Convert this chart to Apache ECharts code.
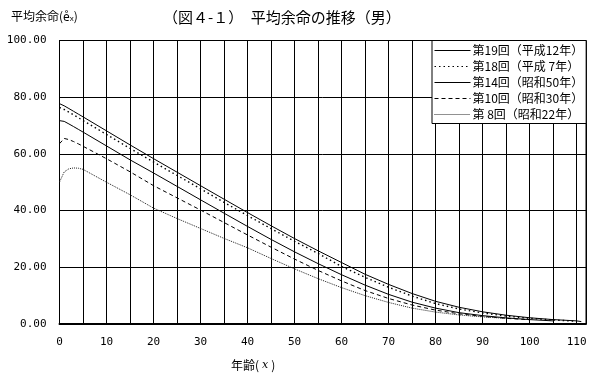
<!DOCTYPE html>
<html><head><meta charset="utf-8">
<script src="https://cdn.jsdelivr.net/npm/echarts@6/dist/echarts.min.js"></script>
<style>html,body{margin:0;padding:0;background:#fff}#c{width:600px;height:380px}</style>
</head><body><div id="c"></div>
<script>
// ages (x)
const ages = [0,1,2,3,4,5,10,15,20,25,30,35,40,45,50,55,60,65,70,75,80,85,90,95,100,105,110,111];
// series names (legend)
const seriesNames = ['第19回（平成12年）','第18回（平成 7年）','第14回（昭和50年）','第10回（昭和30年）','第 8回（昭和22年）'];
// life expectancy values per age
const e19 = [77.72,76.96,76.00,75.02,74.04,73.07,68.13,63.18,58.33,53.56,48.79,44.03,39.30,34.66,30.14,25.83,21.68,17.54,13.97,10.75,8.00,5.90,4.30,3.10,2.20,1.55,1.10,0.85];
const e18 = [76.38,75.66,74.71,73.74,72.77,71.79,66.87,61.93,57.16,52.42,47.66,42.92,38.24,33.65,29.17,24.92,20.28,16.48,12.96,9.86,7.20,5.30,3.90,2.80,2.00,1.40,1.00,null];
const e14 = [71.73,71.47,70.57,69.63,68.67,67.70,62.81,57.91,53.27,48.55,43.81,39.09,34.41,29.84,25.45,21.30,17.38,13.72,10.45,7.70,5.60,4.00,2.95,2.15,1.55,1.10,null,null];
const e10 = [63.60,65.45,65.05,64.35,63.55,62.70,58.30,53.70,48.80,44.50,40.20,35.80,31.40,27.10,22.90,18.90,15.20,11.80,9.00,6.70,4.90,3.60,2.70,2.00,1.50,null,null,null];
const e8  = [50.06,53.65,54.75,55.05,54.95,54.55,50.00,45.60,40.89,37.20,33.70,30.20,26.88,23.10,19.44,16.00,12.83,10.00,7.60,5.60,4.20,3.20,2.50,2.00,null,null,null,null];
// tick labels
const yTicks = [0,20,40,60,80,100];
const xTickLabels = [0,10,20,30,40,50,60,70,80,90,100,110];

const valueSets = [e19,e18,e14,e10,e8];
const lineTypes = ['solid',[1.5,3],'solid',[4,3],[1,1]];
const lineWidths = [1,1.4,1,1,1];
const lineColors = ['#000','#000','#000','#000','#222'];

const chart = echarts.init(document.getElementById('c'), null, {renderer:'canvas'});
const fontJP = '"Noto Sans CJK JP", "Noto Sans", sans-serif';
const fontNum = '"DejaVu Sans Mono", "Liberation Mono", monospace';

chart.setOption({
  animation: false,
  backgroundColor: '#fff',
  title: {
    text: '（図４-１）　平均余命の推移（男）',
    left: 158, top: 5,
    textStyle: {fontSize: 15, fontWeight: 'normal', color: '#000', fontFamily: fontJP}
  },
  grid: {left: 59.5, right: 14, top: 40.5, bottom: 56, show: true, borderColor: '#000', borderWidth: 1, containLabel: false},
  legend: {
    orient: 'vertical', left: 432, top: 40.5,
    backgroundColor: '#fff', borderColor: '#000', borderWidth: 1,
    padding: [4, 3, 3, 2], itemWidth: 36, itemHeight: 12, itemGap: 4,
    itemStyle: {color: 'rgba(0,0,0,0)', borderColor: 'rgba(0,0,0,0)', borderWidth: 0},
    lineStyle: {width: 1},
    textStyle: {fontSize: 12, color: '#000', fontFamily: fontJP, padding: [0,0,0,-3]},
    data: seriesNames
  },
  xAxis: {
    type: 'value', min: 0, max: 112, interval: 5,
    axisLine: {show: true, onZero: false, lineStyle: {color: '#000', width: 2}},
    axisTick: {show: false},
    axisLabel: {
      show: true, margin: 13, color: '#000', fontSize: 11, fontFamily: fontNum,
      showMaxLabel: false,
      formatter: v => xTickLabels.indexOf(v) >= 0 ? String(v) : ''
    },
    splitLine: {show: true, lineStyle: {color: '#000', width: 1}}
  },
  yAxis: {
    type: 'value', min: 0, max: 100, interval: 20,
    axisLine: {show: true, lineStyle: {color: '#000', width: 1}},
    axisTick: {show: false},
    axisLabel: {margin: 13, color: '#000', fontSize: 11, fontFamily: fontNum,
      formatter: v => yTicks.indexOf(v) >= 0 ? v.toFixed(2) : ''},
    splitLine: {show: true, lineStyle: {color: '#000', width: 1}}
  },
  graphic: [
    {type: 'text', left: 11, top: 10, style: {
      text: '平均余命({e|e̊}{s|x})', fill: '#000', font: '12px ' + fontJP,
      rich: {e: {fontSize: 12, fontFamily: fontJP}, s: {fontSize: 8, verticalAlign: 'bottom', padding: [6,0,0,0]}}
    }},
    {type: 'text', left: 231, top: 359, style: {
      text: '年齢({i|x})', fill: '#000', font: '12px ' + fontJP,
      rich: {i: {fontStyle: 'italic', fontFamily: '"DejaVu Serif", serif', fontSize: 11, padding: [0,3,0,3]}}
    }}
  ],
  series: valueSets.map((vals, k) => ({
    name: seriesNames[k],
    type: 'line',
    showSymbol: false, symbol: 'none',
    smooth: false, connectNulls: false,
    lineStyle: {color: lineColors[k], width: lineWidths[k], type: lineTypes[k]},
    itemStyle: {color: lineColors[k]},
    data: ages.map((a, i) => [a, vals[i]]),
    z: 3
  }))
});
</script>
</body></html>
